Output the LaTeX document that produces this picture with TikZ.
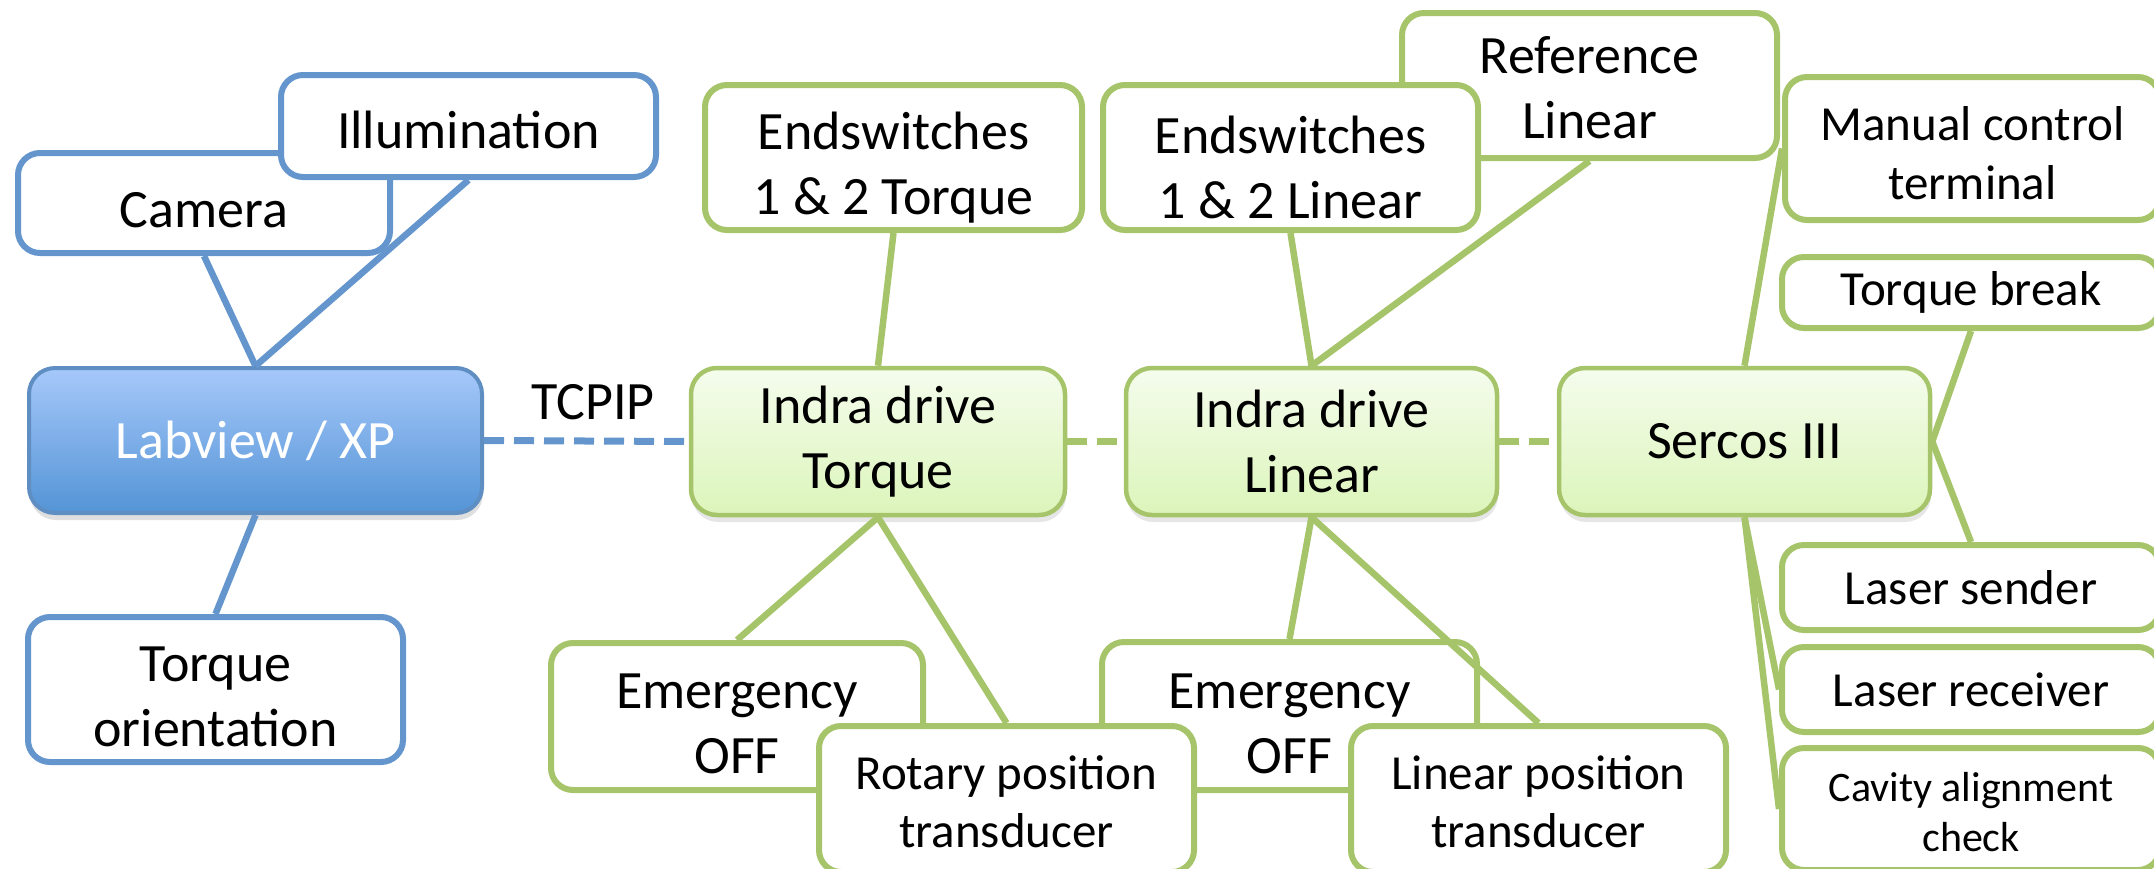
\documentclass[tikz,border=0pt]{standalone}
\usepackage{fontspec}
\setmainfont{Carlito}
\usetikzlibrary{shadows}
\definecolor{bline}{RGB}{100,150,205}
\definecolor{gline}{RGB}{166,196,106}
\definecolor{labtop}{RGB}{166,200,250}
\definecolor{labbot}{RGB}{84,148,214}
\definecolor{grtop}{RGB}{245,252,237}
\definecolor{grbot}{RGB}{220,245,186}
\newcommand\lift[1]{\rule{0pt}{#1}}
\tikzset{
  base/.style={rounded corners=22pt, line width=6pt, align=center, inner sep=0pt,
    font=\fontsize{54}{65}\selectfont},
  bbox/.style={base, draw=bline, fill=white},
  gbox/.style={base, draw=gline, fill=white},
  rbox/.style={gbox, font=\fontsize{49}{59}\selectfont},
  mainb/.style={base, line width=4pt, rounded corners=26pt, draw=bline!95!black, top color=labtop, bottom color=labbot,
    text=white, drop shadow={opacity=0.25, shadow xshift=1pt, shadow yshift=-7pt}},
  maing/.style={base, line width=4.5pt, rounded corners=26pt, draw=gline, top color=grtop, bottom color=grbot,
    drop shadow={opacity=0.2, shadow xshift=1pt, shadow yshift=-7pt}},
  bcon/.style={draw=bline, line width=6.5pt},
  gcon/.style={draw=gline, line width=6.5pt},
  dcon/.style={line width=7pt, dash pattern=on 20pt off 10pt},
}
\begin{document}
\begin{tikzpicture}[x=1pt, y=-1pt]
\useasboundingbox (0,0) rectangle (2154,868);
% left, blue
\node[bbox, minimum width=372pt, minimum height=100pt] (cam) at (204,203) {\lift{50pt}Camera};
\node[bbox, minimum width=375pt, minimum height=102pt] (ill) at (468.5,126) {\lift{46pt}Illumination};
\node[mainb, minimum width=453pt, minimum height=145pt] (lab) at (255.5,440.5) {Labview / XP};
\node[bbox, minimum width=375pt, minimum height=145pt] (tor) at (215.5,689.5) {\lift{50pt}Torque\\orientation};
% middle, green
\node[gbox, minimum width=377pt, minimum height=145pt] (et) at (893.5,157.5) {\lift{58pt}Endswitches\\1 \& 2 Torque};
\node[maing, minimum width=374pt, minimum height=147pt] (it) at (878,441.5) {Indra drive\\Torque};
\node[gbox, minimum width=372pt, minimum height=147pt] (e1) at (737,716.5) {\lift{50pt}Emergency\\OFF};
\node[gbox, minimum width=375pt, minimum height=148pt] (e2) at (1289.5,716) {\lift{50pt}Emergency\\OFF};
\node[gbox, minimum width=375pt, minimum height=146pt, font=\fontsize{49}{58}\selectfont] (rot) at (1006.5,799) {\lift{40pt}Rotary position\\transducer};
\node[gbox, minimum width=375pt, minimum height=145pt] (ref) at (1589.5,85.5) {\lift{42pt}Reference\\Linear};
\node[gbox, minimum width=375pt, minimum height=145pt] (el) at (1290.5,157.5) {\lift{58pt}Endswitches\\1 \& 2 Linear};
\node[maing, minimum width=371pt, minimum height=147pt] (il) at (1311.5,441.5) {Indra drive\\Linear};
\node[gbox, minimum width=375pt, minimum height=146pt, font=\fontsize{49}{58}\selectfont] (lp) at (1538.5,799) {\lift{40pt}Linear position\\transducer};
\node[maing, minimum width=371pt, minimum height=147pt] (ser) at (1744.5,441.5) {Sercos III};
% right
\node[rbox, minimum width=375pt, minimum height=143pt] (man) at (1972.5,148.5) {\lift{44pt}Manual control\\terminal};
\node[rbox, minimum width=378pt, minimum height=71pt] (tb) at (1971,292.5) {Torque break};
\node[rbox, minimum width=378pt, minimum height=85pt] (ls) at (1971,587.5) {Laser sender};
\node[rbox, minimum width=378pt, minimum height=85pt] (lr) at (1971,689.5) {Laser receiver};
\node[rbox, minimum width=378pt, minimum height=122pt, font=\fontsize{42}{50}\selectfont] (cav) at (1971,809) {\lift{36pt}Cavity alignment\\check};
% label
\node[font=\fontsize{54}{65}\selectfont, inner sep=0pt] (tcp) at (593,402) {TCPIP};
% connectors
\draw[bcon] (cam.south) -- (lab.north);
\draw[bcon] (ill.south) -- (lab.north);
\draw[bcon] (lab.south) -- (tor.north);
\draw[bcon, dcon] (lab.east) -- (it.west);
\draw[gcon] (et.south) -- (it.north);
\draw[gcon] (it.south) -- (e1.north);
\draw[gcon] (it.south) -- (rot.north);
\draw[gcon, dcon] (it.east) -- (il.west);
\draw[gcon] (el.south) -- (il.north);
\draw[gcon] (ref.south) -- (il.north);
\draw[gcon] (il.south) -- (e2.north);
\draw[gcon] (il.south) -- (lp.north);
\draw[gcon, dcon] (il.east) -- (ser.west);
\draw[gcon] (ser.north) -- (man.west);
\draw[gcon] (ser.east) -- (tb.south);
\draw[gcon] (ser.east) -- (ls.north);
\draw[gcon] (ser.south) -- (lr.west);
\draw[gcon] (ser.south) -- (cav.west);
\end{tikzpicture}
\end{document}
